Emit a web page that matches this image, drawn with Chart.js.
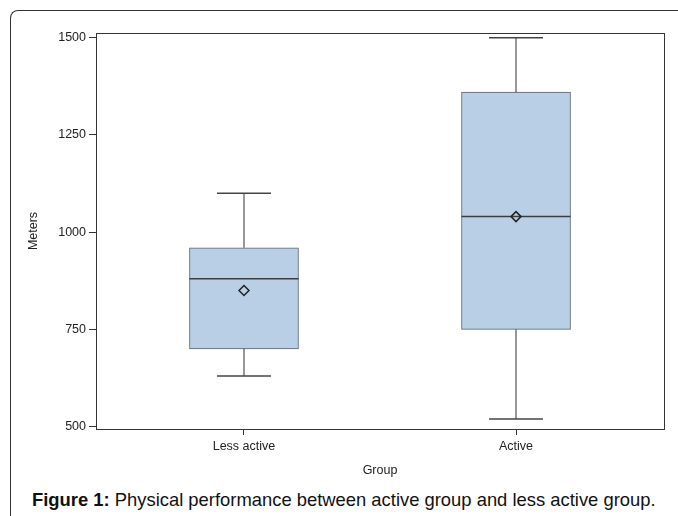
<!DOCTYPE html>
<html>
<head>
<meta charset="utf-8">
<script src="https://cdn.jsdelivr.net/npm/chart.js@4.4.1/dist/chart.umd.min.js"></script>
<style>
  html, body { margin: 0; padding: 0; background: #fff; }
  body { width: 678px; height: 516px; position: relative; overflow: hidden; font-family: "Liberation Sans", Arial, sans-serif; }
  #frame {
    position: absolute; left: 10px; top: 10px; width: 720px; height: 560px;
    border-left: 1.5px solid #333; border-top: 1.5px solid #333;
    border-top-left-radius: 8px;
  }
  #wrap { position: absolute; left: 0; top: 0; width: 678px; height: 484px; }
  #caption {
    position: absolute; left: 32px; top: 491px; white-space: nowrap;
    font-size: 18.4px; line-height: 18px; color: #111;
  }
</style>
</head>
<body>
<div id="frame"></div>
<div id="wrap"><canvas id="boxChart" width="678" height="484"></canvas></div>
<div id="caption"><b>Figure 1:</b> Physical performance between active group and less active group.</div>
<script>
// BOX PLOT DATA (meters)
const groups = ['Less active', 'Active'];
const whiskerMin = [630, 520];
const q1 = [700, 750];
const median = [880, 1040];
const q3 = [960, 1360];
const whiskerMax = [1100, 1500];
const means = [850, 1040];
const yTicks = [500, 750, 1000, 1250, 1500];

const lineColor = '#333';
const boxFill = '#b8cfe6';
const tickFont = { family: '"Liberation Sans", Arial, sans-serif', size: 12.5 };

// whiskers: one small line per group and side
const whiskerSets = [];
groups.forEach((g, i) => {
    whiskerSets.push({
        type: 'scatter', showLine: true, order: 4,
        data: [{ x: i, y: whiskerMin[i] }, { x: i, y: q1[i] }],
        borderColor: lineColor, borderWidth: 1, pointRadius: 0
    });
    whiskerSets.push({
        type: 'scatter', showLine: true, order: 4,
        data: [{ x: i, y: q3[i] }, { x: i, y: whiskerMax[i] }],
        borderColor: lineColor, borderWidth: 1, pointRadius: 0
    });
});

const datasets = [
    {
        type: 'bar', label: 'Box', order: 5,
        data: groups.map((g, i) => ({ x: i, y: [q1[i], q3[i]] })),
        backgroundColor: boxFill,
        borderColor: '#5d6168',
        borderWidth: 1,
        borderSkipped: false,
        barThickness: 109,
        grouped: false
    },
    ...whiskerSets,
    {
        type: 'scatter', label: 'Caps', order: 3,
        data: groups.flatMap((g, i) => [{ x: i, y: whiskerMin[i] }, { x: i, y: whiskerMax[i] }]),
        pointStyle: 'line', pointRadius: 27, borderColor: '#444', borderWidth: 1.5
    },
    {
        type: 'scatter', label: 'Median', order: 2,
        data: groups.map((g, i) => ({ x: i, y: median[i] })),
        pointStyle: 'line', pointRadius: 54.5, borderColor: '#3a3d42', borderWidth: 1.5
    },
    {
        type: 'scatter', label: 'Mean', order: 1,
        data: groups.map((g, i) => ({ x: i, y: means[i] })),
        pointStyle: 'rectRot', pointRadius: 5,
        backgroundColor: 'rgba(0,0,0,0)', borderColor: '#222', borderWidth: 1.5
    }
];

// draw the top and right sides of the plot frame
const framePlugin = {
    id: 'plotFrame',
    afterDraw(chart) {
        const { ctx, chartArea: a } = chart;
        ctx.save();
        ctx.strokeStyle = lineColor;
        ctx.lineWidth = 1;
        ctx.strokeRect(Math.round(a.left) + 0.5, Math.round(a.top) + 0.5,
            Math.round(a.right - a.left), Math.round(a.bottom - a.top));
        ctx.restore();
    }
};

function noPadding(scale) {
    scale.paddingTop = 0;
    scale.paddingBottom = 0;
    scale.paddingLeft = 0;
    scale.paddingRight = 0;
}

const config = {
    type: 'bar',
    data: { datasets: datasets },
    plugins: [framePlugin],
    options: {
        responsive: false,
        animation: false,
        layout: { autoPadding: false, padding: { left: 0, top: 33, right: 14, bottom: 0 } },
        plugins: { legend: { display: false }, tooltip: { enabled: false } },
        scales: {
            x: {
                type: 'linear',
                offset: false,
                min: -0.544, max: 1.544,
                afterBuildTicks: axis => { axis.ticks = groups.map((g, i) => ({ value: i })); },
                afterFit: scale => { scale.height = 55; noPadding(scale); },
                ticks: {
                    callback: v => groups[v],
                    color: '#222', font: tickFont, padding: 4, maxRotation: 0
                },
                grid: { offset: false, drawOnChartArea: false, drawTicks: true, tickLength: 6, color: lineColor },
                border: { display: true, color: lineColor },
                title: { display: true, text: 'Group', color: '#222', font: tickFont, padding: { top: 0, bottom: 5.5 } }
            },
            y: {
                type: 'linear',
                min: 494, max: 1512,
                afterBuildTicks: axis => { axis.ticks = yTicks.map(v => ({ value: v })); },
                afterFit: scale => { scale.width = 96; noPadding(scale); },
                ticks: { callback: v => String(v), color: '#222', font: tickFont, padding: 3 },
                grid: { drawOnChartArea: false, drawTicks: true, tickLength: 7, color: lineColor },
                border: { display: true, color: lineColor },
                title: { display: true, text: 'Meters', color: '#222', font: tickFont, padding: { top: 26.5, bottom: 0 } }
            }
        }
    }
};

function initChart() {
    if (typeof Chart === 'undefined') {
        console.error('Chart.js is not loaded.');
        return;
    }
    const canvas = document.getElementById('boxChart');
    new Chart(canvas.getContext('2d'), config);
}

if (document.readyState === 'loading') {
    document.addEventListener('DOMContentLoaded', initChart);
} else {
    initChart();
}
</script>
</body>
</html>
